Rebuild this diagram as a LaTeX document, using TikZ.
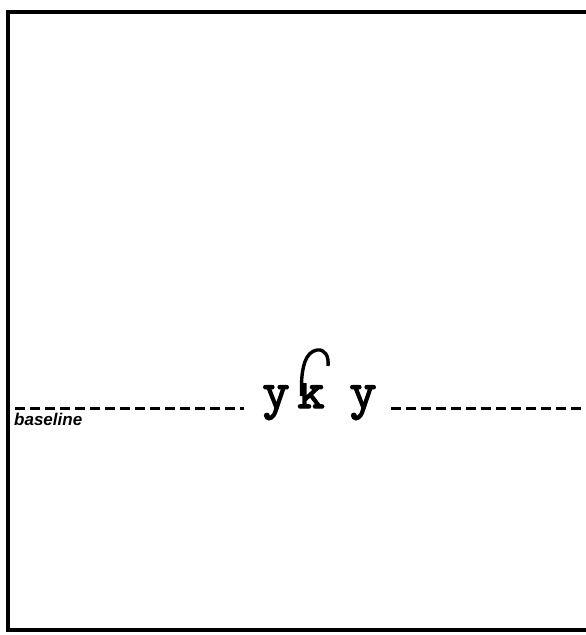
\documentclass[tikz,border=0pt]{standalone}
\usepackage{fontspec}
\usepackage{tikz}
\usetikzlibrary{arrows.meta,calc,positioning}
\newfontfamily\labelfont{Liberation Sans}
\newfontfamily\glyphfont{lmmono10-regular.otf}[FakeBold=2.5]

\begin{document}
\begin{tikzpicture}[x=1pt, y=-1pt, line cap=butt,
    cornice/.style={line width=4pt, line join=miter},
    guida/.style={line width=3pt, dash pattern=on 10pt off 5pt},
    glifo/.style={inner sep=0pt, anchor=base, font=\glyphfont\fontsize{52}{52}\selectfont},
    etichetta/.style={inner sep=0pt, anchor=north west, font=\labelfont\bfseries\itshape\fontsize{17}{17}\selectfont}]
    \useasboundingbox (0,0) rectangle (586,635);

    % Cornice
    \coordinate (tr) at (586,12);
    \coordinate (tl) at (8,12);
    \coordinate (bl) at (8,630);
    \coordinate (br) at (586,630);
    \draw[cornice] (tr) -- (tl) -- (bl) -- (br);

    % Glifi sulla linea di base
    \node[glifo] (y1) at (276,408) {y};
    \begin{scope}
        \clip (280,383) rectangle (345,430);
        \node[glifo] (k) at (311,408) {k};
    \end{scope}
    \node[glifo] (y2) at (363,408) {y};
    % Ascendente ricurva della k
    \coordinate (kstem) at (301.5,396);
    \coordinate (khook) at (328,366);
    \draw[line width=3.4pt] (kstem) -- (301.5,384) .. controls (302,368) and (305,352) .. (317,350) .. controls (325,349) and (329,356) .. (khook);

    % Linea di base
    \coordinate (gl) at (15,408);
    \coordinate (gr) at (586,408);
    \draw[guida] (gl) -- ($(y1.base west)+(-18,0)$);
    \draw[guida] ($(y2.base east)+(14,0)$) -- (gr);
    \node[etichetta] (lbl) at (14,413) {baseline};
\end{tikzpicture}
\end{document}
